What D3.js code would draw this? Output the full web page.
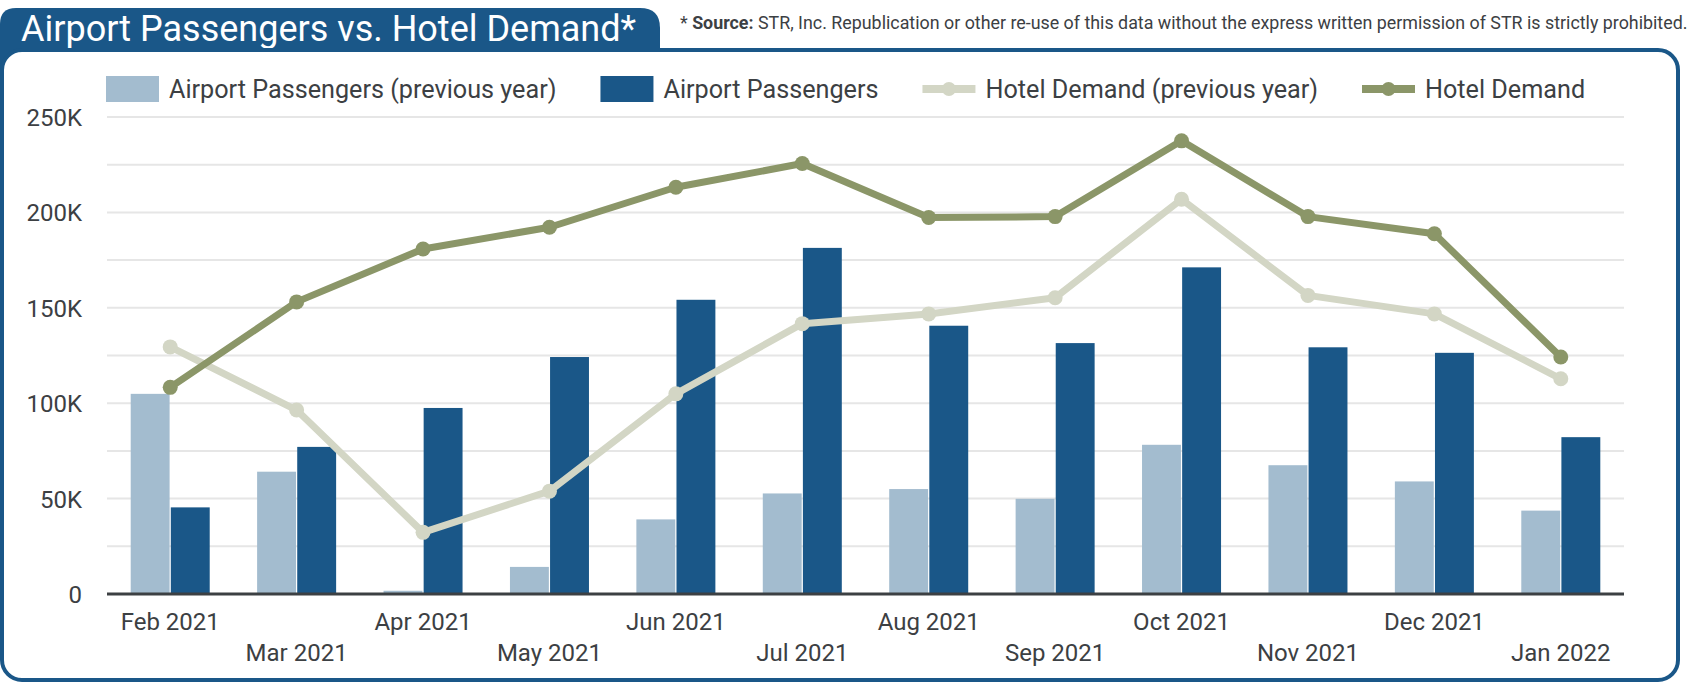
<!DOCTYPE html>
<html><head><meta charset="utf-8">
<script src="https://cdn.jsdelivr.net/npm/d3@7"></script>
<style>
html,body{margin:0;padding:0;background:#fff;}
svg{display:block;font-family:Roboto,"Noto Sans",sans-serif;}
</style></head>
<body><svg id="c" width="1696" height="683"></svg>
<script>
const months = ["Feb 2021","Mar 2021","Apr 2021","May 2021","Jun 2021","Jul 2021","Aug 2021","Sep 2021","Oct 2021","Nov 2021","Dec 2021","Jan 2022"];
const airportPrev = [104900, 64100, 1700, 14200, 39100, 52700, 55000, 49900, 78200, 67500, 59000, 43700];
const airport = [45400, 77100, 97500, 124200, 154200, 181400, 140600, 131500, 171200, 129300, 126400, 82200];
const hotelPrev = [129500, 96400, 32300, 53900, 104900, 141700, 146800, 155300, 206900, 156500, 146800, 112800];
const hotel = [108300, 153100, 180800, 192200, 213200, 225600, 197300, 197800, 237500, 197800, 188800, 124200];
const yTicks = [0, 50000, 100000, 150000, 200000, 250000];
const gridTicks = [25000, 50000, 75000, 100000, 125000, 150000, 175000, 200000, 225000, 250000];
const seriesNames = ["Airport Passengers (previous year)", "Airport Passengers", "Hotel Demand (previous year)", "Hotel Demand"];
const titleText = "Airport Passengers vs. Hotel Demand*";

const C = {blue:"#1a5788", lightBar:"#a3bccf", lightLine:"#d3d6c5", darkLine:"#8b9668", text:"#3c4043", grid:"#e6e6e6"};
const svg = d3.select("#c");

// Title tab
svg.append("path")
  .attr("d", "M0,70 L0,24 Q0,8 16,8 L640,8 Q660,8 660,28 L660,70 Z")
  .attr("fill", C.blue);
svg.append("text").attr("x", 21).attr("y", 41)
  .attr("font-size", 36).attr("fill", "#fff").text(titleText);

// Panel
svg.append("rect").attr("x", 2).attr("y", 50).attr("width", 1676).attr("height", 630)
  .attr("rx", 20).attr("ry", 20).attr("fill", "#fff").attr("stroke", C.blue).attr("stroke-width", 4);

// Source note
const src = svg.append("text").attr("x", 680).attr("y", 29).attr("font-size", 17).attr("fill", C.text);
src.append("tspan").text("* ");
src.append("tspan").attr("font-weight", "bold").text("Source:");
src.append("tspan").text(" STR, Inc. Republication or other re-use of this data without the express written permission of STR is strictly prohibited.");
{
  const w = src.node().getComputedTextLength();
  src.attr("font-size", 17 * 1008 / w);
}

// Scales
const x0 = 107, x1 = 1624;
const x = d3.scaleBand().domain(months).range([x0, x1]).paddingInner(0.375).paddingOuter(0.1875);
const xs = d3.scaleBand().domain([0, 1]).range([0, x.bandwidth()]).paddingInner(0.03);
const y = d3.scaleLinear().domain([0, 250000]).range([594, 117]);

// Gridlines
svg.append("g").selectAll("line").data(gridTicks).join("line")
  .attr("x1", x0).attr("x2", x1).attr("y1", d => y(d)).attr("y2", d => y(d))
  .attr("stroke", C.grid).attr("stroke-width", 2);

// Y axis labels
const yAxis = d3.axisLeft(y).tickValues(yTicks).tickSize(0).tickPadding(0)
  .tickFormat(d => d === 0 ? "0" : d3.format("d")(d / 1000) + "K");
const ya = svg.append("g").attr("transform", "translate(82,0)").call(yAxis);
ya.select(".domain").remove();
ya.selectAll("text").attr("font-size", 24).attr("font-family", "Roboto").attr("fill", C.text).attr("dy", "0.35em");

// Bars
const groups = svg.append("g").selectAll("g").data(months).join("g")
  .attr("transform", d => `translate(${x(d)},0)`);
groups.append("rect").attr("x", xs(0)).attr("width", xs.bandwidth())
  .attr("y", (d, i) => y(airportPrev[i])).attr("height", (d, i) => y(0) - y(airportPrev[i]))
  .attr("fill", C.lightBar);
groups.append("rect").attr("x", xs(1)).attr("width", xs.bandwidth())
  .attr("y", (d, i) => y(airport[i])).attr("height", (d, i) => y(0) - y(airport[i]))
  .attr("fill", C.blue);

// Baseline
svg.append("line").attr("x1", x0).attr("x2", x1).attr("y1", y(0)).attr("y2", y(0))
  .attr("stroke", C.text).attr("stroke-width", 3);

// X axis labels (staggered)
const xAxis = d3.axisBottom(x).tickSize(0).tickPadding(0);
const xa = svg.append("g").attr("transform", `translate(0,${y(0)})`).call(xAxis);
xa.select(".domain").remove();
xa.selectAll("text").attr("font-size", 24).attr("font-family", "Roboto").attr("fill", C.text)
  .attr("dy", null).attr("y", (d, i) => i % 2 === 0 ? 36 : 67);

// Lines
const cx = (d) => x(d) + x.bandwidth() / 2;
function drawLine(vals, color) {
  const line = d3.line().x((d, i) => cx(months[i])).y(d => y(d));
  svg.append("path").datum(vals).attr("d", line).attr("fill", "none")
    .attr("stroke", color).attr("stroke-width", 7).attr("stroke-linejoin", "round");
  svg.append("g").selectAll("circle").data(vals).join("circle")
    .attr("cx", (d, i) => cx(months[i])).attr("cy", d => y(d)).attr("r", 7.5).attr("fill", color);
}
drawLine(hotelPrev, C.lightLine);
drawLine(hotel, C.darkLine);

// Legend
const legendColors = [C.lightBar, C.blue, C.lightLine, C.darkLine];
let lx = 106;
const ly = 89;
seriesNames.forEach((name, i) => {
  const g = svg.append("g");
  if (i < 2) {
    g.append("rect").attr("x", lx).attr("y", ly - 13).attr("width", 53).attr("height", 26).attr("fill", legendColors[i]);
  } else {
    g.append("line").attr("x1", lx).attr("x2", lx + 53).attr("y1", ly).attr("y2", ly)
      .attr("stroke", legendColors[i]).attr("stroke-width", 8);
    g.append("circle").attr("cx", lx + 26.5).attr("cy", ly).attr("r", 7).attr("fill", legendColors[i]);
  }
  const t = g.append("text").attr("x", lx + 63).attr("y", ly).attr("dy", "0.35em")
    .attr("font-size", 25.2).attr("fill", C.text).text(name);
  lx += 63 + t.node().getComputedTextLength() + 44;
});
</script>
</body></html>
